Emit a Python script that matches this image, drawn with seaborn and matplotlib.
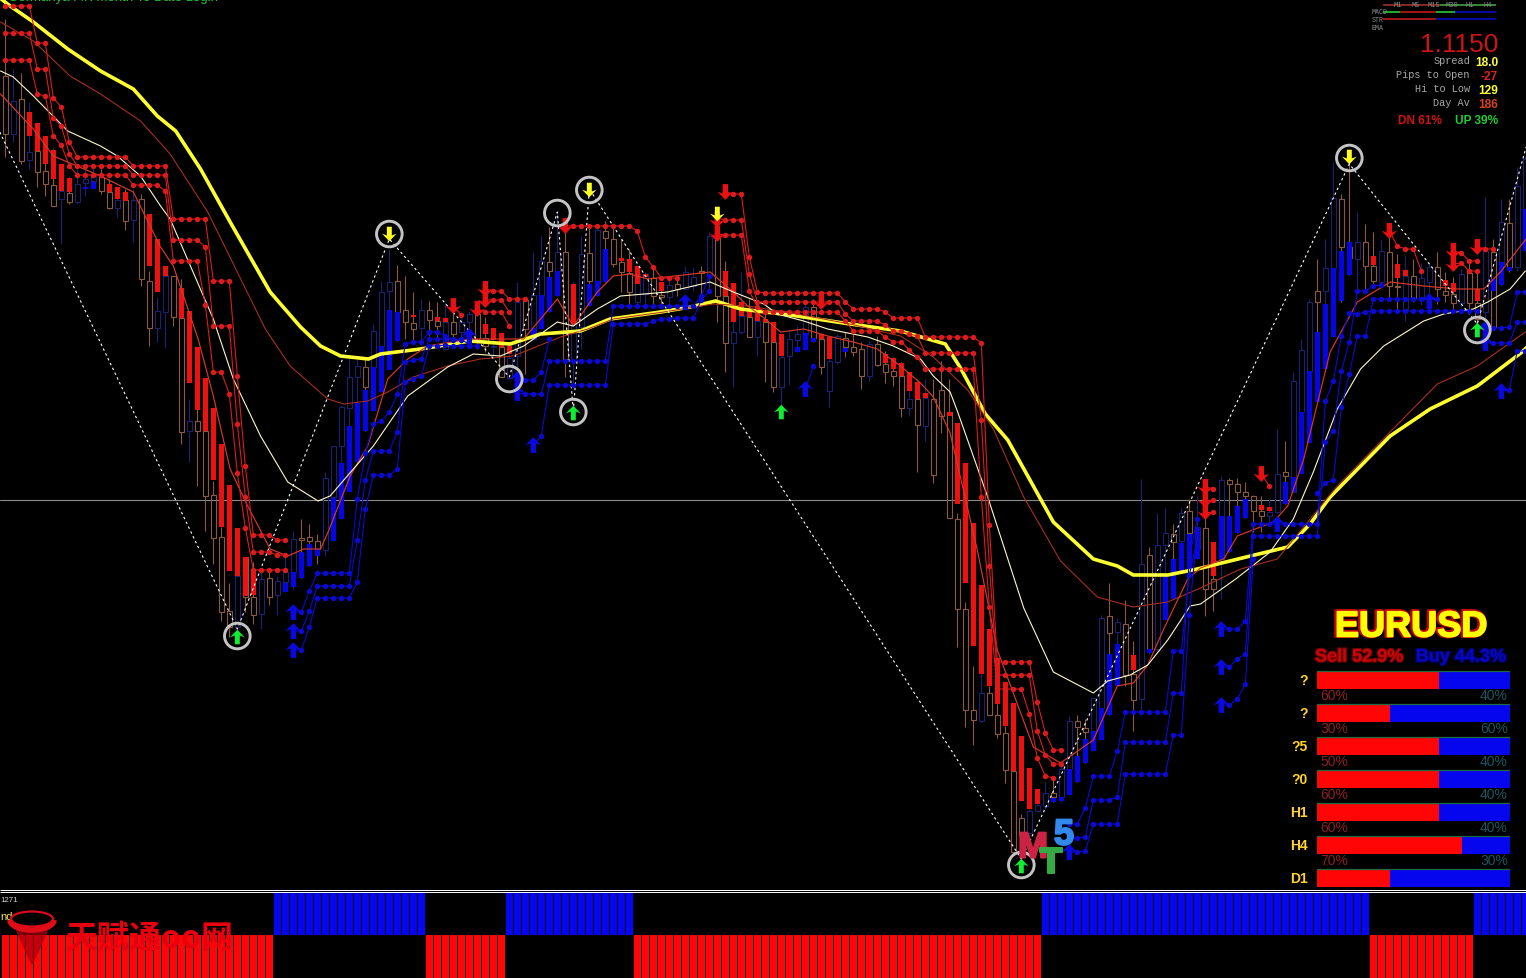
import numpy as np
import matplotlib
matplotlib.use("Agg")
import matplotlib.pyplot as plt
import matplotlib.patheffects as pe
from matplotlib.path import Path
from matplotlib.patches import Arc, Ellipse, Polygon
import seaborn as sns

# === Bars: hollow price candles, levels (row numbers, top = 0) ===
CANDLE_TOP = [77,102,100,153,152,172,186,192,194,185,
              180,177,178,193,201,201,201,200,282,312,
              277,277,319,422,422,432,496,538,612,577,
              558,598,580,579,582,573,540,539,538,542,
              479,447,408,378,367,368,332,293,283,282,
              311,324,311,311,322,323,323,323,315,315,
              339,347,348,359,303,301,296,262,263,253,
              253,325,255,254,231,232,240,263,274,275,
              275,279,296,286,285,273,278,272,237,239,
              297,333,317,318,322,323,343,358,340,335,
              308,308,340,362,337,339,348,350,345,345,
              365,372,377,400,400,399,400,391,413,520,
              610,711,694,694,716,734,772,819,812,806,
              794,794,770,722,722,729,699,619,617,623,
              625,675,565,556,546,534,535,514,512,528,
              529,580,481,481,485,493,497,512,513,475,
              473,382,351,303,292,269,199,200,248,243,
              243,267,252,253,287,277,277,279,268,268,
              292,295,275,274,304,252,253,223,224,187,
              160]
CANDLE_BOT = [135,135,162,161,173,185,207,200,203,203,
              184,182,192,209,209,222,221,280,329,329,
              313,318,433,432,432,497,539,613,628,628,
              598,616,615,598,596,583,573,541,542,550,
              551,498,447,409,378,388,368,347,292,313,
              323,330,329,321,327,350,335,333,323,340,
              347,348,378,379,357,330,340,297,272,272,
              360,362,328,282,285,239,265,273,293,303,
              295,297,298,298,290,290,287,274,277,297,
              344,344,333,338,338,343,388,388,357,341,
              335,339,368,392,363,348,353,377,377,366,
              373,377,409,409,426,427,476,417,519,610,
              711,721,722,716,735,771,853,837,834,812,
              807,798,798,770,728,733,732,709,634,633,
              676,701,700,650,650,546,543,542,534,550,
              590,590,560,485,493,497,512,517,517,513,
              477,493,413,372,303,292,269,248,259,260,
              267,282,283,287,288,310,299,298,283,290,
              296,304,304,304,320,313,328,265,268,268,
              210]
CANDLE_HI = [20,70,74,103,125,137,150,165,178,170,
             170,165,170,180,188,190,190,195,272,298,
             267,277,280,400,410,379,482,528,584,577,
             558,563,573,570,577,557,532,520,525,535,
             473,447,406,358,359,358,325,282,250,266,
             277,293,300,302,303,303,313,313,312,307,
             318,329,334,347,283,298,253,237,228,213,
             220,282,237,227,226,222,225,240,250,267,
             273,270,283,280,276,267,268,267,233,232,
             262,284,273,300,313,315,323,335,332,327,
             302,300,335,338,335,333,335,343,342,337,
             352,358,363,372,382,380,380,362,380,514,
             603,667,675,687,705,727,772,815,810,790,
             782,780,765,717,716,720,699,616,584,619,
             601,642,480,548,514,509,525,509,500,497,
             510,545,477,479,479,483,496,497,500,430,
             442,373,340,300,260,240,163,195,163,213,
             225,233,240,228,255,257,260,264,263,253,
             273,278,270,262,274,198,240,200,200,168,
             157]
CANDLE_LO = [158,143,165,170,188,197,207,245,205,205,
             197,185,195,210,218,231,243,287,347,343,
             349,327,445,463,487,532,565,622,638,632,
             613,625,630,606,616,593,590,579,567,565,
             557,542,520,493,463,432,412,393,371,342,
             340,342,347,337,338,350,345,343,340,350,
             353,358,378,380,372,375,340,330,313,297,
             378,387,350,307,297,283,268,293,305,305,
             307,305,308,308,297,290,292,302,290,323,
             373,388,335,338,357,383,393,407,386,353,
             351,343,375,408,365,358,357,390,382,367,
             384,387,418,417,473,442,484,434,519,648,
             728,746,723,716,739,784,855,862,837,812,
             810,803,803,796,783,764,752,741,716,687,
             687,732,716,654,652,621,600,572,571,560,
             617,612,600,553,534,519,533,533,523,514,
             505,493,475,444,403,370,338,303,276,290,
             292,287,290,300,310,322,303,306,307,305,
             303,312,308,315,337,328,330,287,273,272,
             252]
# o = brown candle, n = navy candle
CANDLE_KIND = ("ononooonon" "nnoononoon" "noonooooon" "oononnnooo" "nnnnnonnno"
               "oonoononno" "ononnonnon" "onnonoooon" "noononnono" "onnonoonnn"
               "noonnooono" "ooononoooo" "oonooooonn" "nonnoonnon" "oononnonon"
               "oonooooonn" "onnnonnoon" "oonoononno" "oonoononon" "n")

# filled smoothed bodies
RED_BODY_BAR = [3,4,5,6,7,8,13,14,15,18,19,20,22,23,24,25,26,27,28,29,30,31,51,54,55,60,61,62,63,71,
                77,78,79,80,82,90,91,92,93,94,95,96,97,102,103,110,111,112,113,114,115,118,119,120,121,
                122,123,124,125,126,127,128,129,141,151,157,158,171,174,175,180,181,184]
RED_BODY_TOP = [113,124,137,151,165,179,185,188,193,215,240,267,289,312,348,379,409,445,486,529,558,570,316,318,319,325,329,334,347,285,
                259,260,267,275,283,272,284,303,310,313,320,323,335,335,338,355,359,364,373,383,394,413,424,464,524,
                586,630,659,683,704,737,769,790,656,543,506,508,257,265,271,281,284,290]
RED_BODY_BOT = [137,152,165,180,192,193,193,200,202,267,293,277,319,384,411,432,481,528,572,577,597,596,318,322,323,335,341,348,355,325,
                262,273,285,278,292,297,323,317,318,322,323,343,357,340,360,364,370,377,392,400,399,417,505,584,647,
                675,687,705,727,772,802,810,805,671,577,511,512,266,279,277,287,293,302]
BLUE_BODY_BAR = [10,11,35,36,37,38,39,41,42,43,44,45,46,47,48,49,66,67,68,69,73,74,75,99,100,101,105,
                 131,132,133,134,135,136,137,138,139,143,145,146,147,148,149,152,153,154,155,160,161,
                 162,163,164,165,166,167,168,186,187,188,190]
BLUE_BODY_TOP = [188,183,584,573,553,545,550,499,464,427,404,391,368,347,311,313,329,296,278,272,285,282,250,348,334,339,349,
                 799,798,770,757,740,732,709,655,645,650,578,560,544,535,533,517,517,507,500,483,478,
                 413,372,333,305,269,252,243,280,263,268,210]
BLUE_BODY_BOT = [190,190,593,588,579,567,557,542,520,493,463,432,412,393,371,342,340,330,313,297,307,297,283,353,351,343,353,
                 803,802,796,783,764,752,741,716,687,654,621,600,572,571,560,560,553,534,519,505,493,
                 475,444,403,370,338,302,276,292,286,272,252]

# === Moving averages (bar number, level) ===
YELLOW_BAR = [-1,0.6,3.5,7.8,11.9,16,19,21.3,24.4,28.1,33.1,36.9,39.4,41.9,45.4,46.9,51.9,58.1,63.1,66.9,71.9,75.6,81.9,
              85.6,88.8,91.9,98.1,105.6,111.9,117.5,119.4,122.5,125.3,131,136,139,141,145.3,149,154.6,160.3,163.1,165.6,
              173.1,178.1,184,189.6,190.6]
YELLOW_Y = [-3,7,23,50,72,90,117,132,170,223,293,328,347,357,360,355,350,342,345,335,332,320,313,
            308,302,310,316,325,332,345,369,415,441,523,560,567,576,576,570,559,548,525,498,
            437,410,387,353,345]
SLOW_BAR = [-0.6,3.5,8.1,11.9,16.9,20.6,25.3,32.5,35.6,40.3,42.3,45.3,47.8,51,55.3,59.4,63.5,69.4,72.8,76,82.3,88.5,92.8,96.9,
            105.6,111.9,116,120.3,123.5,127.3,131.9,136.5,141,145.3,149.4,154.4,159,166.5,173.1,179,184,190]
SLOW_Y = [23,42,77,95,122,155,213,330,367,400,405,402,393,378,367,360,357,338,330,320,313,305,307,312,
          325,337,358,391,430,498,562,598,608,603,589,570,560,487,433,385,367,333]
FAST_BAR = [-0.6,3.5,6,11.9,16,19.4,21,24.1,26,28.1,30.3,33.1,35.3,37.3,39.4,40.4,43.1,45.3,47.8,50.3,52.8,58,64.8,69,71,74,76,78.1,80.3,
            88.1,91,92.8,95,96.9,99.8,102.8,106,109,111.9,114.4,116,118.1,121.5,124,126.5,128.5,131.9,136,139,141,142.8,144.8,147.8,149.4,
            152.3,154,158.5,160.3,162.3,165.6,169,173.1,177.3,181.5,184.8,186.9,189.4,190.6]
FAST_Y = [95,130,157,177,193,248,267,340,397,470,507,550,557,550,550,532,477,447,380,360,347,340,340,300,327,293,277,275,280,
          273,293,307,320,333,330,337,343,350,367,384,398,434,551,651,705,748,764,741,687,684,666,630,580,569,
          560,537,523,507,460,353,303,283,287,290,290,273,247,235]
CREAM_BAR = [-0.6,1,3.5,7.8,11.9,14,16.9,19.4,20.6,26,28.5,31.9,35.3,39.1,40.6,43.5,46,50.3,55.3,58.5,61.9,64.8,69,71,74,76.9,82.8,88.1,91,
             94.8,96.5,99.8,102.8,107.8,111,114.4,116,118.1,119,122.8,127.3,131,136,137.8,140.6,142.8,145.3,148.1,149.4,153.8,158.1,161,
             163.5,166.5,169.4,172.3,177.3,179.8,183.5,185.3,188.1,190]
CREAM_Y = [72,78,97,132,147,157,177,207,220,320,380,437,483,502,497,470,447,397,368,355,357,347,323,327,310,297,293,283,293,
           305,315,322,330,338,347,360,377,393,412,498,609,673,694,682,676,666,641,607,605,580,553,520,
           473,410,370,347,322,315,310,303,290,272]

# swing line
ZIGZAG_BAR = [-0.7,29,48,63,69,71,73,127,168,184,190.1]
ZIGZAG_Y = [133,630,240,378,213,413,190,860,165,325,148]

# === Stop levels: (first bar, levels) ===
RED_STOPS = [
    (0, [7]*4 + [44,44,99,108,143] + [158]*7 + [167]*5 + [220]*5 + [282]*3 + [377,467,536,536,536,541,541]),
    (0, [34]*4 + [70,70,119,127,155] + [167]*7 + [176]*5 + [241]*4 + [248] + [327]*3 + [425,498,553,553,553,556,556]),
    (0, [61]*4 + [95,97,137,146,167] + [176]*7 + [186]*4 + [192] + [262]*4 + [306,373,373,395,474,529] + [571]*5),
    (60, [290,292,292,300,300,300]),
    (60, [301,301,301,313]),
    (59, [310,313,313,313,327]),
    (56, [307,316]),
    (70, [227]*9 + [232,258,268,279,279,279]),
    (90, [193,195,195,258,293] + [294]*10 + [303] + [310]*4 + [313] + [319]*4 + [338]*7 + [344,526] + [663]*5 + [703,734,751,751]),
    (89, [219,221,221,221,275,303] + [303]*10 + [315] + [322]*4 + [326,332,332,335,337] + [354]*7 + [421,567] + [676]*5 + [732,756,765,765]),
    (89, [235,236,236,236,292,308] + [313]*10 + [322] + [332]*4 + [338,343,343,351,358] + [370]*7 + [498,608] + [690]*4 + [715,759,777,779]),
    (173, [232,247,250,250,272]),
    (181, [252,254,262,262]),
    (181, [265,264,272,272]),
    (184, [248,250,250]),
    (157, [475,487]),
    (150, [488,490]),
    (150, [501,501]),
    (150, [513,513]),
]
BLUE_STOPS = [
    (36, [613,613,592,574,574,574,574,574,500,454,425,422,413,395,345,343,343,333,333,337,341,340,335]),
    (36, [632,632,612,587,587,587,587,587,541,481,452,452,452,433,363,361,360,340,340,340,340,341,345]),
    (36, [651,651,628,599,599,599,599,599,583,510,476,476,476,470,383,380,377,347,347,346,347,347,347,347]),
    (64, [380,381,381,373,340]),
    (64, [394,395,395,395,362] + [362]*7 + [307]*11 + [297,277]),
    (66, [446,437,386] + [386]*7 + [325]*5 + [322,320,320,319,319,319,301,292]),
    (100, [390,367]),
    (133, [825,825,809,777,777,777,752] + [713]*6 + [652,652,576,540]),
    (133, [839,839,838,801,801,801,798] + [743]*6 + [694,694,558,520]),
    (133, [853,853,852,825,825,825,825] + [775]*6 + [736,736,616,530]),
    (152, [630,630,630,622] + [525]*9 + [402,382,337,314,315,313] + [312]*14),
    (152, [668,668,660,655] + [537]*9 + [443,432,372,343,292,292,287,286]),
    (152, [706,706,700,685,560]),
    (164, [494,484,481,408,375,337,337] + [300]*9),
    (185, [330,329,329,328,293,293]),
    (185, [344,344,344,344,323,323]),
    (187, [392,391,352,352]),
]

# === Signals ===
RING_BAR = [29,48,63,69,71,73,127,168,184]
RING_Y = [637,235,380,214,413,191,866,159,331]
GREEN_UP_BAR = [29,71,97,127,184]
GREEN_UP_Y = [638,414,413,867,331]
YELLOW_DOWN_BAR = [48,73,168,89]
YELLOW_DOWN_Y = [235,191,158,215]
RED_DOWN_BAR = [90,89,89,70,60,60,59,56,173,181,181,184,150,150,150,157,102]
RED_DOWN_Y = [193,221,235,227,290,301,310,307,232,252,265,248,488,501,513,475,303]
BLUE_UP_BAR = [36,36,36,66,64,64,100,152,152,152,133,185,185,187,85,178,159,58]
BLUE_UP_Y = [613,632,651,446,380,394,390,630,668,706,853,330,344,392,303,302,525,337]

# === Bottom histogram: (sign, number of bars) ===
SIGNAL_RUNS = [(-1,34),(1,19),(-1,10),(1,16),(-1,51),(1,41),(-1,13),(1,7)]

# === Currency strength panel ===
PANEL_ROWS = ["?", "?", "?5", "?0", "H1", "H4", "D1"]
PANEL_SELL = [63, 38, 63, 63, 63, 75, 38]
SELL_TEXT = ["60%", "30%", "50%", "60%", "60%", "70%"]
BUY_TEXT = ["40%", "60%", "40%", "40%", "40%", "30%"]

INFO_LABELS = ["Spread", "Pips to Open", "Hi to Low", "Day Av"]
INFO_VALUES = ["18.0", "-27", "129", "186"]
INFO_COLORS = ["#ffff33", "#dd2222", "#ffff33", "#d8431f"]

W, H = 1526, 979
MAIN_BOTTOM = 890
BG = "#000000"

sns.set_theme(style="dark", rc={"axes.facecolor": BG, "figure.facecolor": BG, "savefig.facecolor": BG})
plt.rcParams["font.family"] = ["Liberation Sans", "DejaVu Sans"]

ARROW_UP = Path([(0, 1), (1.0, -0.05), (0.34, 0.2), (0.34, -1), (-0.34, -1), (-0.34, 0.2), (-1.0, -0.05), (0, 1)], closed=True)
ARROW_DOWN = Path([(0, -1), (1.0, 0.05), (0.34, -0.2), (0.34, 1), (-0.34, 1), (-0.34, -0.2), (-1.0, 0.05), (0, -1)], closed=True)


def pane(top, bottom, left=0, right=W):
    return fig.add_axes([left / W, 1 - bottom / H, (right - left) / W, (bottom - top) / H])


def line(ax, x, y, color, width, **kws):
    sns.lineplot(x=x, y=y, color=color, linewidth=width, sort=False, estimator=None, legend=False, ax=ax, **kws)


def arrows(ax, x, y, marker, color, size=130):
    sns.scatterplot(x=x, y=y, marker=marker, s=size, color=color, edgecolor="none", legend=False, ax=ax, zorder=7)


fig = plt.figure(figsize=(W / 100, H / 100), dpi=100)

# === Main chart ===
ax = pane(0, MAIN_BOTTOM)
bars = np.arange(len(CANDLE_TOP))
top, bot = np.array(CANDLE_TOP), np.array(CANDLE_BOT)
hi, lo = np.array(CANDLE_HI), np.array(CANDLE_LO)
kinds = np.array(list(CANDLE_KIND))

ax.axhline(501.4, color="#8a8a8a", linewidth=0.8, zorder=1)

for kind, col in [("o", "#8c5a3e"), ("n", "#1b2272")]:
    m = kinds == kind
    ax.vlines(bars[m], hi[m], top[m], color=col, linewidth=0.8, zorder=2)
    ax.vlines(bars[m], bot[m], lo[m], color=col, linewidth=0.8, zorder=2)
    ax.bar(bars[m], bot[m] - top[m], bottom=top[m], width=0.55, fill=False, edgecolor=col, linewidth=0.8, zorder=2)

ax.bar(RED_BODY_BAR, np.array(RED_BODY_BOT) - np.array(RED_BODY_TOP), bottom=RED_BODY_TOP, width=0.7, color="#f01010", linewidth=0, zorder=3)
ax.bar(BLUE_BODY_BAR, np.array(BLUE_BODY_BOT) - np.array(BLUE_BODY_TOP), bottom=BLUE_BODY_TOP, width=0.7, color="#0505e8", linewidth=0, zorder=3)

line(ax, YELLOW_BAR, YELLOW_Y, "#ffff30", 2.6, zorder=4, solid_joinstyle="round")
line(ax, SLOW_BAR, SLOW_Y, "#b03020", 0.75, zorder=5)
line(ax, FAST_BAR, FAST_Y, "#d83a28", 0.85, zorder=5)
line(ax, CREAM_BAR, CREAM_Y, "#fff8c8", 0.8, zorder=5)
line(ax, ZIGZAG_BAR, ZIGZAG_Y, "#ffffff", 0.8, linestyle=(0, (2.2, 2.6)), zorder=6)

for start, levels in RED_STOPS:
    line(ax, np.arange(start, start + len(levels)), levels, "#dc1c1c", 0.8, marker="o", markersize=3.9, markeredgewidth=0, zorder=6)
for start, levels in BLUE_STOPS:
    line(ax, np.arange(start, start + len(levels)), levels, "#0a0ad2", 0.8, marker="o", markersize=3.9, markeredgewidth=0, zorder=6)

arrows(ax, RED_DOWN_BAR, RED_DOWN_Y, ARROW_DOWN, "#e81010")
arrows(ax, BLUE_UP_BAR, BLUE_UP_Y, ARROW_UP, "#0a0ae0")
arrows(ax, YELLOW_DOWN_BAR, YELLOW_DOWN_Y, ARROW_DOWN, "#ffff20", size=110)
arrows(ax, GREEN_UP_BAR, GREEN_UP_Y, ARROW_UP, "#10ee30", size=110)
sns.scatterplot(x=RING_BAR, y=RING_Y, s=340, facecolor="none", edgecolor="#c4c4c4", linewidth=2.1, legend=False, ax=ax, zorder=8)

ax.set_xlim(-5.33 / 8, (W - 5.33) / 8)
ax.set_ylim(MAIN_BOTTOM, 0)
ax.axis("off")

# === Bottom histogram ===
ax_low = pane(893, H)
signal = np.concatenate([[sign] * count for sign, count in SIGNAL_RUNS])
sns.barplot(x=bars, y=signal, hue=signal, palette={-1: "#ff0505", 1: "#0505f0"}, native_scale=True, width=0.875,
            dodge=False, legend=False, linewidth=0, saturation=1, ax=ax_low)
ax_low.set_xlim(-5.33 / 8, (W - 5.33) / 8)
ax_low.set_ylim(-1, 1)
ax_low.axis("off")

# === Strength panel ===
ax_bar = pane(664.5, 895.5, 1317, 1510)
rows = np.arange(len(PANEL_ROWS))
sns.barplot(x=[100] * len(rows), y=rows, orient="h", color="#0505ee", width=0.52, saturation=1, linewidth=0, ax=ax_bar)
sns.barplot(x=PANEL_SELL, y=rows, orient="h", color="#ff0505", width=0.52, saturation=1, linewidth=0, ax=ax_bar)
ax_bar.hlines(rows - 0.27, 0, 100, color="#1c6b40", linewidth=0.9)
ax_bar.set_xlim(0, 100)
ax_bar.set_ylim(len(rows) - 0.5, -0.5)
ax_bar.axis("off")
ax_bar.patch.set_alpha(0)

# === Overlay: everything that is text ===
over = fig.add_axes([0, 0, 1, 1])
over.set_xlim(0, W)
over.set_ylim(H, 0)
over.axis("off")
over.patch.set_alpha(0)


def label(x, y, text, color, size, ha="left", weight="normal", **kws):
    return over.text(x, y, text, color=color, fontsize=size, ha=ha, va="center", fontweight=weight, **kws)


# white separator
over.hlines([890.6, 892.7], 0, W, color="#ffffff", linewidth=0.7)

# headline cut by the top of the window
label(8, -2, "Germanya P.K Month To Date Login", "#22c433", 9.5)

# pair title
label(1411, 628, "EURUSD", "#ffff00", 26, ha="center", weight="bold",
      path_effects=[pe.Stroke(linewidth=3, foreground="#c80000", offset=(-0.8, 0.4)), pe.Stroke(linewidth=1.2, foreground="#ffff00"), pe.Normal()])
label(1315, 658, "Sell 52.9%", "#c80808", 13, weight="bold", path_effects=[pe.withStroke(linewidth=1.6, foreground="#7a0000")])
label(1506, 658, "Buy 44.3%", "#0808c0", 13, ha="right", weight="bold", path_effects=[pe.withStroke(linewidth=1.6, foreground="#00007a")])
for i, row in enumerate(PANEL_ROWS):
    label(1308, 681 + 33 * i, row, "#ffd22e", 10, ha="right", weight="bold")
for i in range(len(SELL_TEXT)):
    label(1320, 696 + 33 * i, SELL_TEXT[i], "#8c2020", 10)
    label(1508, 696 + 33 * i, BUY_TEXT[i], "#1c5660", 10, ha="right")

# quote box
label(1498, 45, "1.1150", "#cc1414", 19, ha="right")
for i, (name, value, col) in enumerate(zip(INFO_LABELS, INFO_VALUES, INFO_COLORS)):
    label(1470, 61 + 14 * i, name, "#a8a8a8", 7.4, ha="right", family="Liberation Mono")
    label(1498, 62.5 + 14 * i, value, col, 8.6, ha="right", weight="bold")
label(1398, 120.5, "DN 61%", "#cc1414", 8.6, weight="bold")
label(1498, 120.5, "UP 39%", "#22cc33", 8.6, ha="right", weight="bold")

# mini trend table
over.hlines(5.5, 1383, 1440, color="#a03028", linewidth=1.2)
over.hlines(5.5, 1440, 1496, color="#3fa040", linewidth=1.2)
for x0, x1, col in [(1383, 1400, "#22bb33"), (1400, 1436, "#b01818"), (1436, 1455, "#22bb33"), (1455, 1496, "#0808b8")]:
    over.hlines(12.7, x0, x1, color=col, linewidth=1.3)
for x0, x1, col in [(1383, 1436, "#b01818"), (1436, 1496, "#0808b8")]:
    over.hlines(20, x0, x1, color=col, linewidth=1.3)
for x, tf in zip([1398, 1416, 1434, 1452, 1470, 1488], ["M1", "M5", "M15", "M30", "H1", "H4"]):
    label(x, 5.5, tf, "#8a8a8a", 5, ha="center", family="Liberation Mono")
for y, tag in zip([12.7, 20, 28], ["MACD", "STR", "EMA"]):
    label(1372, y, tag, "#8f8f8f", 4.8, family="Liberation Mono")

# MT5 mark
label(1033, 849, "M", "#cc2244", 26, ha="center", weight="bold", path_effects=[pe.withStroke(linewidth=1.5, foreground="#cc2244")])
label(1051, 864, "T", "#33aa44", 26, ha="center", weight="bold", path_effects=[pe.withStroke(linewidth=1.5, foreground="#33aa44")])
label(1064, 836, "5", "#3388ee", 26, ha="center", weight="bold", path_effects=[pe.withStroke(linewidth=1.5, foreground="#3388ee")])

# lower pane: label stubs and the red logo watermark
label(0, 901, "1271", "#d8d8d8", 5.6)
label(0, 917, "nd", "#e8e860", 8)
over.add_patch(Polygon([(16, 930), (48, 930), (40, 948), (32, 965), (24, 948)], closed=True, color="#a80010", alpha=0.7, zorder=3))
over.add_patch(Ellipse((32, 920), 42, 15, fill=False, edgecolor="#d80a14", linewidth=1.6, zorder=4))
over.add_patch(Arc((32, 921), 44, 20, theta1=0, theta2=180, edgecolor="#e00c18", linewidth=4, zorder=4))
label(65, 939, "天赋通oo网", "#e8000f", 23, weight="bold", family=["Noto Sans CJK SC", "DejaVu Sans"], zorder=5)

plt.savefig("out.png", dpi=100)
plt.close()
